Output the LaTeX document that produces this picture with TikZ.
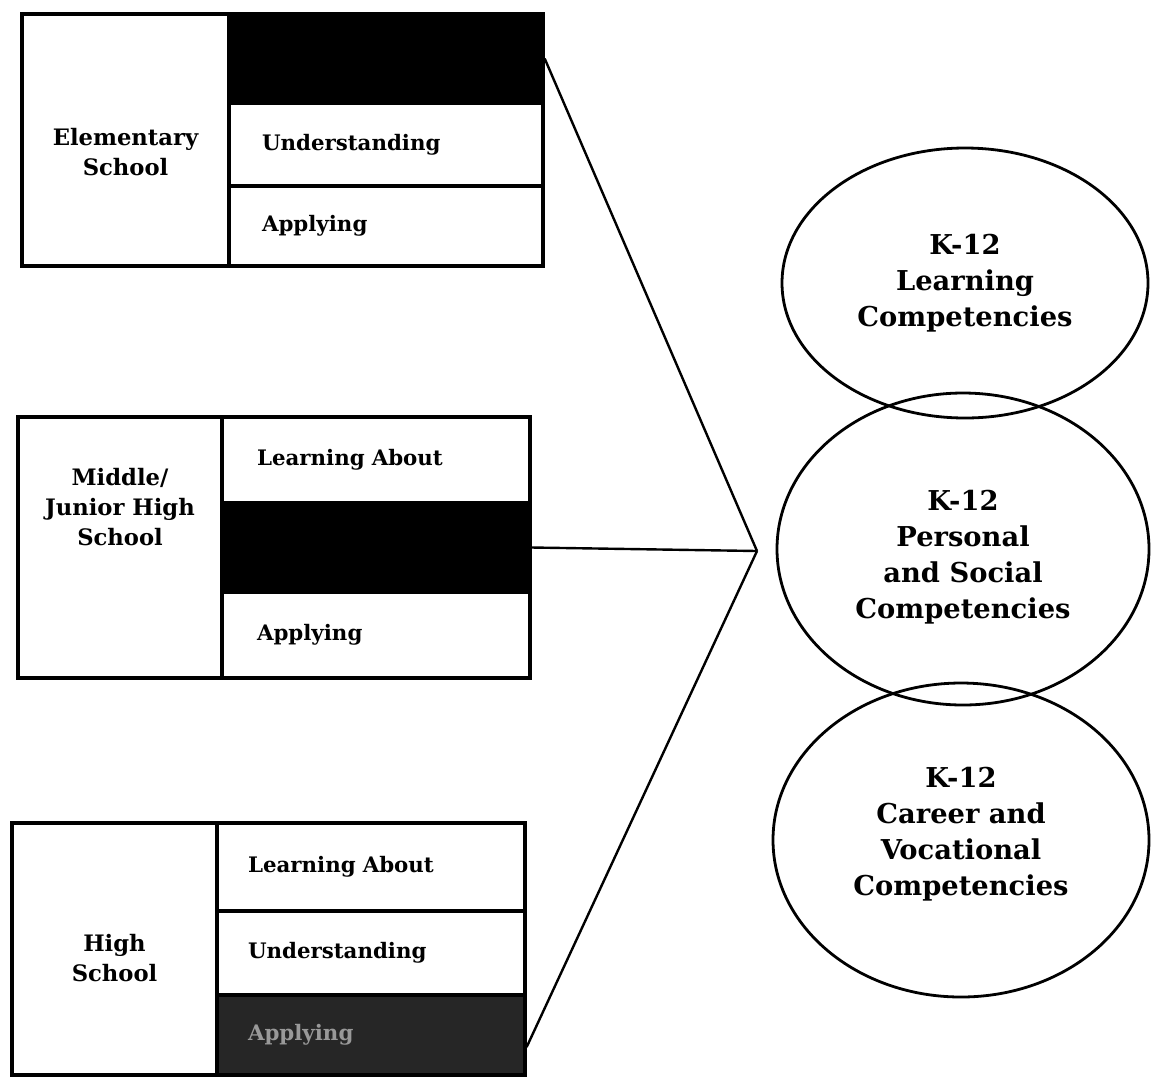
\documentclass[tikz,border=0pt]{standalone}
\usepackage{fontspec}
\setmainfont{DejaVu Serif}
\usetikzlibrary{shapes.geometric}
\begin{document}
\begin{tikzpicture}[x=0.75pt,y=-0.75pt,
  cellbox/.style={draw, line width=2.5pt, inner sep=0pt, rectangle},
  rcell/.style={cellbox, align=left, font=\bfseries\fontsize{16}{18}\selectfont},
  lbl/.style={align=center, font=\bfseries\fontsize{17}{22.5}\selectfont},
  blk/.style={fill=black},
  comp/.style={draw, line width=2.1pt, ellipse, inner sep=0pt, align=center,
     font=\bfseries\fontsize{20.5}{27}\selectfont},
  link/.style={line width=1.8pt}]
\useasboundingbox (0,0) rectangle (1151,1079);
% ---- Elementary
\node[cellbox, minimum width=155.25pt, minimum height=189pt] (e1l) at (125.5,140) {};
\node[lbl] (e1t) at (125.5,152) {Elementary\\School};
\node[rcell, blk, minimum height=66.75pt, text width=186pt, inner xsep=24.75pt] (e1a) at (386,58.5) {};
\node[rcell, minimum height=62.25pt, text width=186pt, inner xsep=24.75pt] (e1b) at (386,144.5) {Understanding};
\node[rcell, minimum height=60pt, text width=186pt, inner xsep=24.75pt] (e1c) at (386,226) {Applying};
% ---- Middle
\node[cellbox, minimum width=153pt, minimum height=195.75pt] (e2l) at (120,547.5) {};
\node[lbl] (e2t) at (120,507) {Middle/\\Junior High\\School};
\node[rcell, minimum height=64.5pt, text width=178.5pt, inner xsep=26.25pt] (e2a) at (376,460) {Learning About};
\node[rcell, blk, minimum height=66.75pt, text width=178.5pt, inner xsep=26.25pt] (e2b) at (376,547.5) {};
\node[rcell, minimum height=64.5pt, text width=178.5pt, inner xsep=26.25pt] (e2c) at (376,635) {Applying};
% ---- High
\node[cellbox, minimum width=153.75pt, minimum height=189pt] (e3l) at (114.5,949) {};
\node[lbl] (e3t) at (114.5,958) {High\\School};
\node[rcell, minimum height=66pt, text width=184.5pt, inner xsep=23.25pt] (e3a) at (371,867) {Learning About};
\node[rcell, minimum height=63pt, text width=184.5pt, inner xsep=23.25pt] (e3b) at (371,953) {Understanding};
\node[rcell, fill=black!85, text=black!40, minimum height=60pt, text width=184.5pt, inner xsep=23.25pt] (e3c) at (371,1035) {Applying};
% ---- Ellipses
\node[comp, minimum width=274.5pt, minimum height=202.5pt] (c1) at (965,283) {K-12\\Learning\\Competencies};
\node[comp, minimum width=279pt, minimum height=234pt] (c2) at (963,549) {};
\node[comp, minimum width=282pt, minimum height=235.5pt] (c3) at (961,840) {};
\node[comp, draw=none] (c2t) at (963,557) {K-12\\Personal\\and Social\\Competencies};
\node[comp, draw=none] (c3t) at (961,834) {K-12\\Career and\\Vocational\\Competencies};
% ---- Connectors
\coordinate (m) at (757,551);
\draw[link] (e1a.east) -- (m);
\draw[link] (e2b.east) -- (m);
\draw[link] ([yshift=-9pt]e3c.east) -- (m);
\end{tikzpicture}
\end{document}
